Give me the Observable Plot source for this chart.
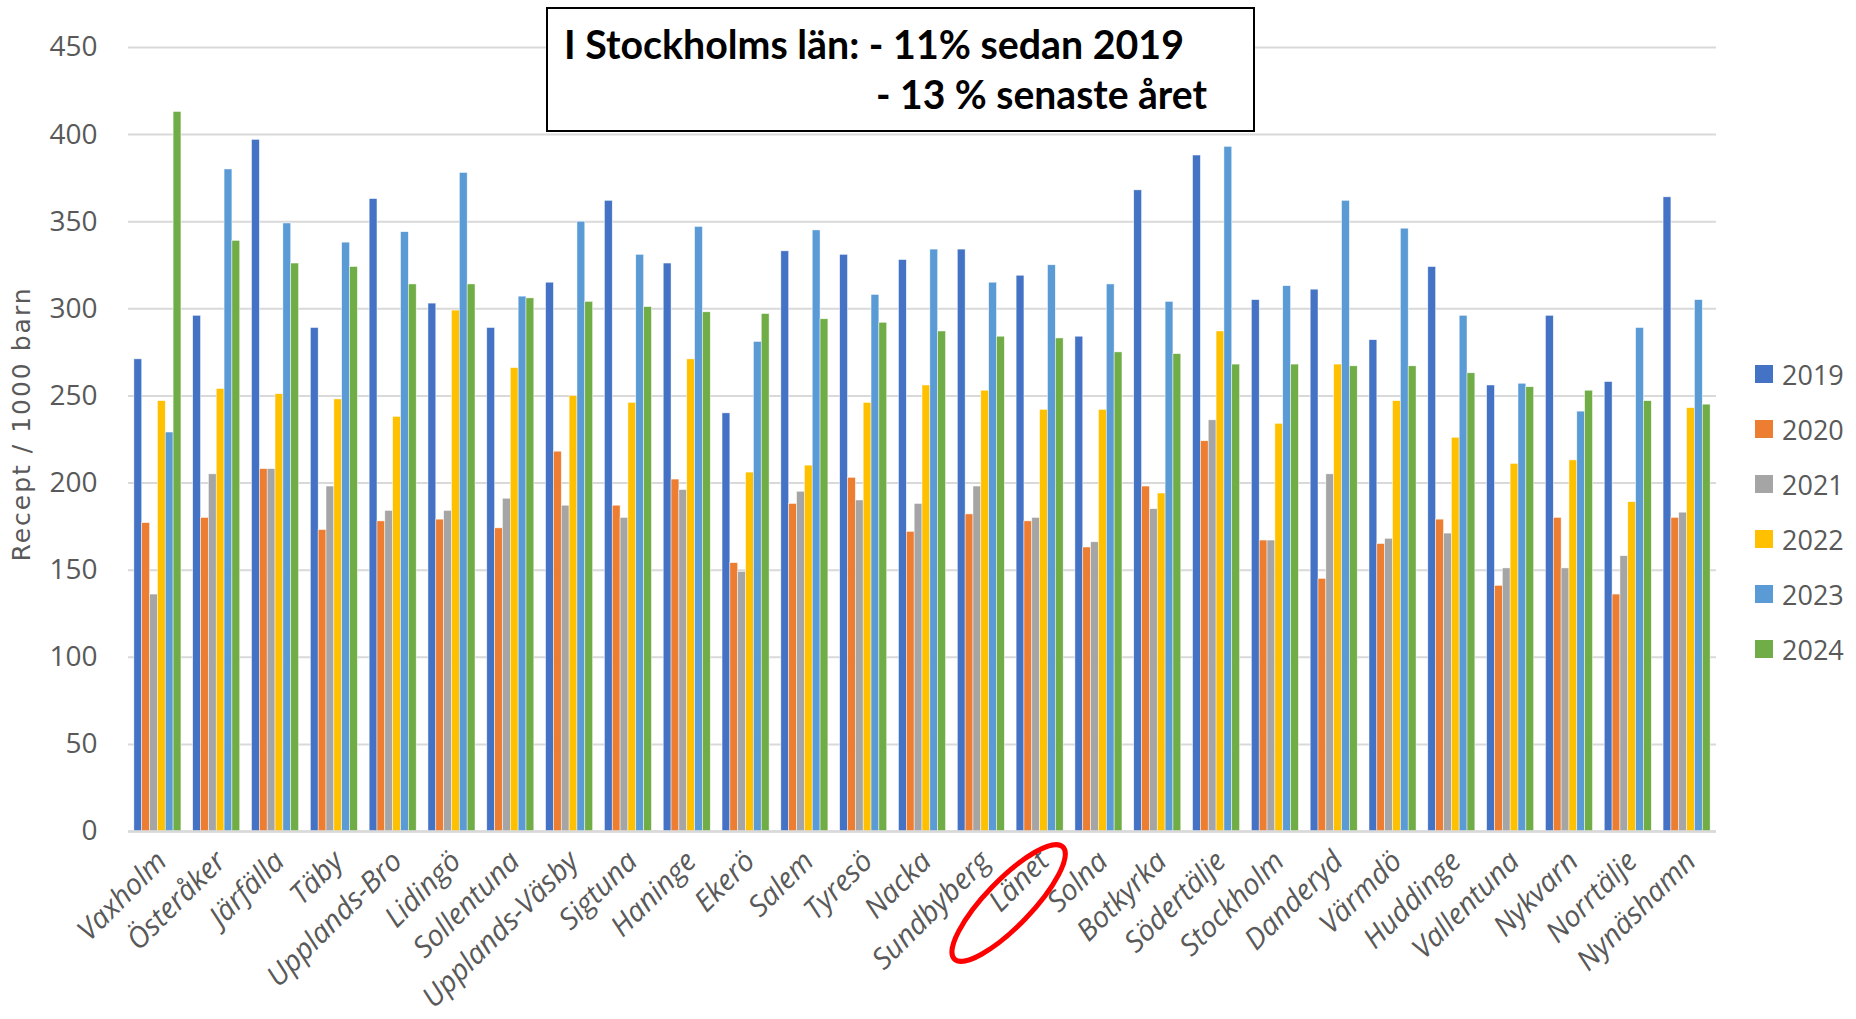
<!DOCTYPE html>
<html>
<head>
<meta charset="utf-8">
<script src="https://cdn.jsdelivr.net/npm/d3@7"></script>
<script src="https://cdn.jsdelivr.net/npm/@observablehq/plot@0.6"></script>
<style>
  html, body { margin: 0; padding: 0; background: #fff; }
  #wrap { position: relative; width: 1856px; height: 1019px; overflow: hidden; background: #fff; }
  #chart { position: absolute; left: 0; top: 0; }
  #box { position: absolute; left: 546px; top: 7px; width: 709px; height: 125px; box-sizing: border-box;
         border: 2px solid #000; background: #fff; color: #000;
         font-family: Lato, "Open Sans", sans-serif;
         font-weight: bold; font-size: 41px; line-height: 43px; white-space: nowrap; }
  #box .l1, #box .l2 { position: absolute; display: inline-block; transform-origin: 0 50%; }
  #box .l1 { left: 16px; top: 13px; }
  #box .l2 { left: 328px; top: 63px; }
  #legend { position: absolute; left: 1755px; top: 0; font-family: "Open Sans", sans-serif; font-size: 27px; color: #595959; }
  #legend .row { position: absolute; left: 0; height: 30px; display: flex; align-items: center; white-space: nowrap; }
  #legend .sw { width: 18px; height: 18px; margin-right: 9px; flex: none; }
  #ytitle { position: absolute; left: 21px; top: 424px; transform: translate(-50%, -50%) rotate(-90deg);
            font-family: "DejaVu Sans", Verdana, sans-serif; font-size: 25px; letter-spacing: 2px; color: #595959; white-space: nowrap; }
</style>
</head>
<body>
<div id="wrap">
  <div id="chart"></div>
  <div id="ytitle"></div>
  <div id="box"><div class="l1"></div><div class="l2"></div></div>
  <div id="legend"></div>
</div>
<script>
// ---------- Data ----------
const municipalities = ["Vaxholm", "Österåker", "Järfälla", "Täby", "Upplands-Bro", "Lidingö", "Sollentuna",
  "Upplands-Väsby", "Sigtuna", "Haninge", "Ekerö", "Salem", "Tyresö", "Nacka", "Sundbyberg", "Länet", "Solna",
  "Botkyrka", "Södertälje", "Stockholm", "Danderyd", "Värmdö", "Huddinge", "Vallentuna", "Nykvarn", "Norrtälje", "Nynäshamn"];
const years = ["2019", "2020", "2021", "2022", "2023", "2024"];
const values2019 = [271, 296, 397, 289, 363, 303, 289, 315, 362, 326, 240, 333, 331, 328, 334, 319, 284, 368, 388, 305, 311, 282, 324, 256, 296, 258, 364];
const values2020 = [177, 180, 208, 173, 178, 179, 174, 218, 187, 202, 154, 188, 203, 172, 182, 178, 163, 198, 224, 167, 145, 165, 179, 141, 180, 136, 180];
const values2021 = [136, 205, 208, 198, 184, 184, 191, 187, 180, 196, 149, 195, 190, 188, 198, 180, 166, 185, 236, 167, 205, 168, 171, 151, 151, 158, 183];
const values2022 = [247, 254, 251, 248, 238, 299, 266, 250, 246, 271, 206, 210, 246, 256, 253, 242, 242, 194, 287, 234, 268, 247, 226, 211, 213, 189, 243];
const values2023 = [229, 380, 349, 338, 344, 378, 307, 350, 331, 347, 281, 345, 308, 334, 315, 325, 314, 304, 393, 313, 362, 346, 296, 257, 241, 289, 305];
const values2024 = [413, 339, 326, 324, 314, 314, 306, 304, 301, 298, 297, 294, 292, 287, 284, 283, 275, 274, 268, 268, 267, 267, 263, 255, 253, 247, 245];
const seriesColors = ["#4472C4", "#ED7D31", "#A5A5A5", "#FFC000", "#5B9BD5", "#70AD47"];
const yTicks = [0, 50, 100, 150, 200, 250, 300, 350, 400, 450];
const yTitle = "Recept / 1000 barn";
const boxLine1 = "I Stockholms län: - 11% sedan 2019";
const boxLine2 = "- 13 % senaste året";
const highlighted = "Länet";

const allSeries = [values2019, values2020, values2021, values2022, values2023, values2024];
const data = municipalities.flatMap((m, i) => years.map((yr, j) => ({kommun: m, year: yr, value: allSeries[j][i]})));

// ---------- Layout ----------
const W = 1856, H = 1019, ML = 128, MR = 140, MT = 47, MB = 188;
const PAD_IN = 0.2, PAD_OUT = 0.1;
const n = municipalities.length;
const step = (W - ML - MR) / (n - PAD_IN + 2 * PAD_OUT);
const bandW = step * (1 - PAD_IN);
const sub = bandW / years.length;

const marks = [
  Plot.gridY(yTicks, {stroke: "#d9d9d9", strokeOpacity: 1, strokeWidth: 2}),
];
years.forEach((yr, j) => {
  marks.push(Plot.barY(data.filter(d => d.year === yr), {
    x: "kommun", y: "value", fill: "year",
    insetLeft: j * sub, insetRight: (years.length - 1 - j) * sub,
    stroke: "#ffffff", strokeWidth: 0.6, strokeOpacity: 0.8
  }));
});
marks.push(Plot.ruleY([0], {stroke: "#d9d9d9", strokeWidth: 2.5}));
marks.push(Plot.axisY(yTicks, {tickSize: 0, tickPadding: 31, label: null, fontSize: 28, fill: "#595959"}));
marks.push(Plot.axisX({tickSize: 0, tickPadding: 25, dx: 4, tickRotate: -45, label: null, fontSize: 29, fill: "#595959"}));

const chart = Plot.plot({
  width: W, height: H,
  marginLeft: ML, marginRight: MR, marginTop: MT, marginBottom: MB,
  style: {fontFamily: "'Open Sans', sans-serif", color: "#595959", background: "transparent", overflow: "visible"},
  x: {domain: municipalities, paddingInner: PAD_IN, paddingOuter: PAD_OUT, round: false, axis: null},
  y: {domain: [0, 450], axis: null},
  color: {domain: years, range: seriesColors},
  marks
});

// italic x labels
chart.querySelectorAll('g[aria-label="x-axis tick label"]').forEach(g => g.setAttribute("font-style", "italic"));

// highlight ellipse around the "Länet" label, positioned from the chart's scales
const xs = chart.scale("x"), ys = chart.scale("y");
const cx = xs.apply(highlighted) + xs.bandwidth / 2 - 31;
const cy = ys.apply(0) + 72;
const ell = document.createElementNS("http://www.w3.org/2000/svg", "ellipse");
ell.setAttribute("cx", cx); ell.setAttribute("cy", cy);
ell.setAttribute("rx", 78); ell.setAttribute("ry", 23);
ell.setAttribute("fill", "none"); ell.setAttribute("stroke", "#FF0000"); ell.setAttribute("stroke-width", 5);
ell.setAttribute("transform", `rotate(-46 ${cx} ${cy})`);
chart.appendChild(ell);

document.getElementById("chart").appendChild(chart);

// texts
document.getElementById("ytitle").textContent = yTitle;
const l1 = document.querySelector("#box .l1"), l2 = document.querySelector("#box .l2");
l1.textContent = boxLine1;
l2.textContent = boxLine2;
// condense the bold box text to the reference's narrow look
function fitWidth(el, target) {
  const w = el.getBoundingClientRect().width;
  if (w > 0) el.style.transform = `scaleX(${target / w})`;
}
fitWidth(l1, 620);
fitWidth(l2, 331);

// legend
const legendTop = 374;
const legendGap = 55;
const leg = document.getElementById("legend");
years.forEach((yr, j) => {
  const row = document.createElement("div");
  row.className = "row";
  row.style.top = (legendTop + j * legendGap - 15) + "px";
  const sw = document.createElement("div");
  sw.className = "sw"; sw.style.background = seriesColors[j];
  const t = document.createElement("span");
  t.textContent = yr;
  row.appendChild(sw); row.appendChild(t);
  leg.appendChild(row);
});
</script>
</body>
</html>
